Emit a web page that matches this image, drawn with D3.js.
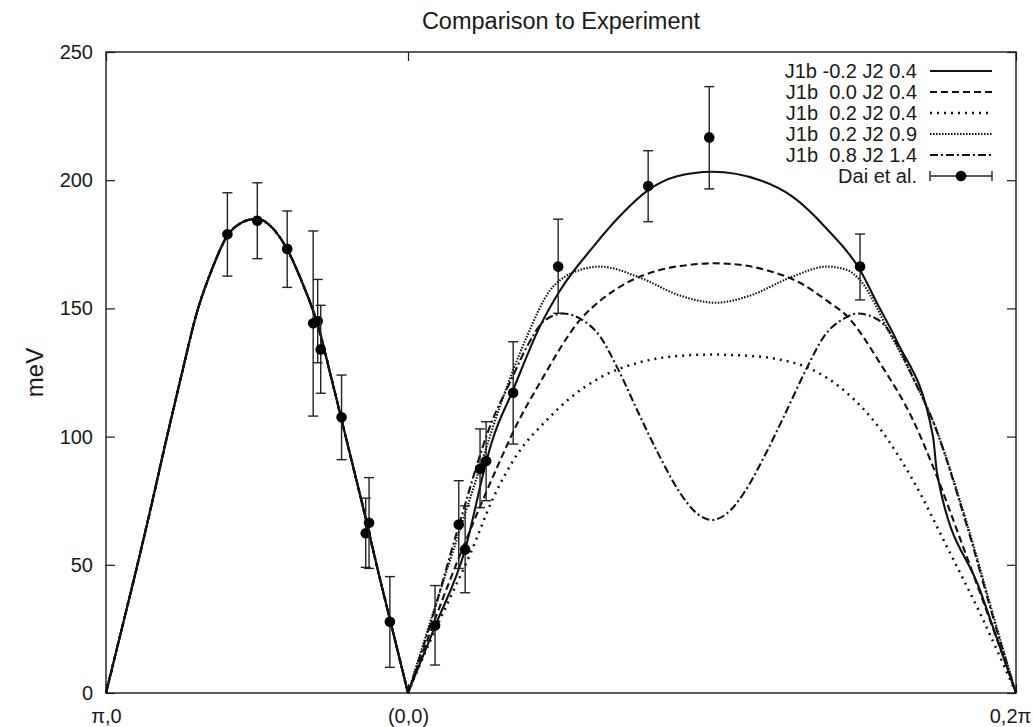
<!DOCTYPE html>
<meta charset="utf-8">
<script src="https://d3js.org/d3.v7.min.js"></script>
<style type="text/css">
body { margin: 0; background: #fff; }
text { font-family: "Liberation Sans", Arial, Helvetica, sans-serif; fill: #1a1a1a; }
.axis path { display: none; }
.axis line { stroke: #1a1a1a; stroke-width: 1.2; }
.axis text { font-size: 20px; }
.curve { fill: none; stroke: #111; stroke-width: 2.1; }
.ebar { stroke: #222; stroke-width: 1.4; }
</style>
<body>
<script>

// x is the path coordinate: 0 = (pi,0), 1 = (0,0), 3 = (0,2pi)
var xTicks = [0, 1, 3];
var xTickLabels = ["π,0", "(0,0)", "0,2π"];
var yTicks = [0, 50, 100, 150, 200, 250];

var seriesNames = ["J1b -0.2 J2 0.4", "J1b  0.0 J2 0.4", "J1b  0.2 J2 0.4", "J1b  0.2 J2 0.9", "J1b  0.8 J2 1.4"];
var seriesDash = [null, "7,4", "2,5", "1.5,1.5", "8,3,2,3"];

// left branch, all five models lie on top of each other
var leftQ = [0, 0.05, 0.1, 0.15, 0.2, 0.25, 0.3, 0.35, 0.4, 0.45, 0.5, 0.55, 0.6, 0.65, 0.7, 0.75, 0.8, 0.85, 0.9, 0.95, 1];
var leftE = [0, 24, 48, 73, 99, 124, 148, 165, 178, 183.5, 185, 181.5, 173, 160, 144, 121, 97, 73, 48, 24, 0];

// right branch, one per model
var q1 = [1, 1.089, 1.188, 1.257, 1.276, 1.345, 1.434, 1.5, 1.609, 1.697, 1.789, 1.885, 2, 2.158, 2.266, 2.378, 2.487, 2.543, 2.609, 2.727, 2.74, 2.882, 3];
var e1 = [0, 26, 56, 90, 98, 118, 143, 157, 174, 186, 196, 201.5, 203.3, 200, 193.5, 181, 165, 152, 137, 100, 86, 40, 0];

var q2 = [1, 1.138, 1.237, 1.293, 1.359, 1.434, 1.566, 1.632, 1.72, 1.829, 1.928, 2.007, 2.092, 2.191, 2.289, 2.378, 2.444, 2.553, 2.661, 2.727, 2.826, 2.938, 3];
var e2 = [0, 44, 72.7, 88, 105, 121, 145.5, 153, 160, 165, 167, 167.6, 167, 164.5, 160, 153, 147, 128.6, 106.5, 88.3, 57, 20.7, 0];

var q3 = [1, 1.072, 1.138, 1.204, 1.28, 1.359, 1.457, 1.533, 1.632, 1.763, 1.895, 2, 2.125, 2.224, 2.313, 2.444, 2.553, 2.661, 2.773, 2.882, 3];
var e3 = [0, 20, 37, 54, 76, 93, 106.5, 115, 123, 129, 131.5, 132, 131.5, 130, 127, 117, 103, 83, 57, 31, 0];

var q4 = [1, 1.082, 1.161, 1.237, 1.303, 1.391, 1.467, 1.5, 1.566, 1.632, 1.763, 1.895, 2.013, 2.125, 2.257, 2.378, 2.444, 2.487, 2.586, 2.661, 2.727, 2.839, 2.938, 3];
var e4 = [0, 31, 60, 88, 112, 139, 157, 161, 165, 166.3, 162, 155, 152.2, 155, 162, 166.3, 165, 161, 140, 123, 106, 66, 25, 0];

var q5 = [1, 1.066, 1.164, 1.273, 1.339, 1.391, 1.447, 1.51, 1.566, 1.632, 1.688, 1.763, 1.829, 1.895, 1.951, 2, 2.049, 2.105, 2.171, 2.237, 2.313, 2.368, 2.434, 2.48, 2.553, 2.609, 2.661, 2.727, 2.839, 2.938, 3];
var e5 = [0, 24, 64, 105, 122, 135, 145, 148, 146, 139, 127, 108, 92, 78, 70, 67.5, 70, 78, 92, 108, 127, 139, 146, 148, 145, 136, 123, 106, 65, 24, 0];

// Dai et al.
var expQ = [0.402, 0.501, 0.6, 0.686, 0.701, 0.711, 0.78, 0.86, 0.871, 0.94, 1.089, 1.167, 1.188, 1.237, 1.257, 1.346, 1.494, 1.79, 1.991, 2.487];
var expE = [178.9, 184.2, 173.2, 144.2, 145.1, 134, 107.5, 62.3, 66.4, 27.8, 26.3, 65.7, 56, 87.4, 90.5, 117.1, 166.3, 197.7, 216.7, 166.3];
var expLo = [162.6, 169.4, 158.2, 108, 128.8, 116.9, 91, 49, 48.6, 10, 10.9, 48.6, 39.1, 72.3, 75, 97.1, 148.1, 183.8, 196.6, 153.3];
var expHi = [195.1, 199, 188, 180.2, 161.3, 151.2, 124, 76, 84, 45.4, 41.9, 82.8, 73, 103, 105.8, 137, 184.8, 211.5, 236.5, 179];

var width = 1033, height = 727;
var x = d3.scaleLinear().domain([0, 1, 3]).range([106, 408, 1016]);
var y = d3.scaleLinear().domain([0, 250]).range([693, 52]);

var svg = d3.select("body").append("svg")
    .attr("width", width)
    .attr("height", height);

function zip(q, e) { return q.map(function(d, i) { return [d, e[i]]; }); }

var rightQ = [q1, q2, q3, q4, q5];
var rightE = [e1, e2, e3, e4, e5];
var series = seriesNames.map(function(name, i) {
    return {name: name, dash: seriesDash[i], left: zip(leftQ, leftE), right: zip(rightQ[i], rightE[i])};
});

var line = d3.line()
    .x(function(d) { return x(d[0]); })
    .y(function(d) { return y(d[1]); })
    .curve(d3.curveMonotoneX);

// axes with inward ticks on all four sides
svg.append("g").attr("class", "axis")
    .attr("transform", "translate(106,0)")
    .call(d3.axisLeft(y).tickValues(yTicks).tickSize(-9).tickPadding(13));
svg.append("g").attr("class", "axis")
    .attr("transform", "translate(1016,0)")
    .call(d3.axisRight(y).tickValues(yTicks).tickSize(-9).tickFormat(""));
svg.append("g").attr("class", "axis")
    .attr("transform", "translate(0,693)")
    .call(d3.axisBottom(x).tickValues(xTicks).tickSize(-9).tickPadding(16)
        .tickFormat(function(d, i) { return xTickLabels[i]; }))
    .selectAll("text").filter(function(d) { return d === 3; }).attr("dx", "-6");
svg.append("g").attr("class", "axis")
    .attr("transform", "translate(0,52)")
    .call(d3.axisTop(x).tickValues(xTicks).tickSize(-9).tickFormat(""));

svg.append("rect")
    .attr("x", x(0)).attr("y", y(250))
    .attr("width", x(3) - x(0)).attr("height", y(0) - y(250))
    .style("fill", "none").style("stroke", "#1a1a1a").style("stroke-width", 1.4);

// model curves, drawn per branch so the cusp at (0,0) stays sharp
series.slice().reverse().forEach(function(s) {
    [s.left, s.right].forEach(function(branch) {
        svg.append("path")
            .attr("class", "curve")
            .attr("d", line(branch))
            .style("stroke-dasharray", s.dash)
            .style("stroke-width", s.dash === "2,5" ? 2.5 : null);
    });
});

// experimental points with error bars
var exp = expQ.map(function(d, i) { return {q: d, e: expE[i], lo: expLo[i], hi: expHi[i]}; });
var pts = svg.selectAll(".pt").data(exp).enter().append("g").attr("class", "pt");
pts.append("line").attr("class", "ebar")
    .attr("x1", function(d) { return x(d.q); }).attr("x2", function(d) { return x(d.q); })
    .attr("y1", function(d) { return y(d.lo); }).attr("y2", function(d) { return y(d.hi); });
pts.append("line").attr("class", "ebar")
    .attr("x1", function(d) { return x(d.q) - 5; }).attr("x2", function(d) { return x(d.q) + 5; })
    .attr("y1", function(d) { return y(d.lo); }).attr("y2", function(d) { return y(d.lo); });
pts.append("line").attr("class", "ebar")
    .attr("x1", function(d) { return x(d.q) - 5; }).attr("x2", function(d) { return x(d.q) + 5; })
    .attr("y1", function(d) { return y(d.hi); }).attr("y2", function(d) { return y(d.hi); });
pts.append("circle")
    .attr("cx", function(d) { return x(d.q); })
    .attr("cy", function(d) { return y(d.e); })
    .attr("r", 5.3)
    .style("fill", "#000");

// legend
var legend = svg.append("g").attr("class", "legend");
series.forEach(function(s, i) {
    var ly = 71 + i * 21;
    legend.append("text").attr("x", 917).attr("y", ly).attr("dy", "0.35em")
        .style("text-anchor", "end").style("font-size", "20px").style("white-space", "pre")
        .text(s.name);
    legend.append("line").attr("class", "curve")
        .attr("x1", 930).attr("x2", 992).attr("y1", ly).attr("y2", ly)
        .style("stroke-dasharray", s.dash)
        .style("stroke-width", s.dash === "2,5" ? 2.5 : null);
});
var ly6 = 71 + 5 * 21;
legend.append("text").attr("x", 917).attr("y", ly6).attr("dy", "0.35em")
    .style("text-anchor", "end").style("font-size", "20px")
    .text("Dai et al.");
legend.append("line").attr("class", "ebar").attr("x1", 930).attr("x2", 992).attr("y1", ly6).attr("y2", ly6);
legend.append("line").attr("class", "ebar").attr("x1", 930).attr("x2", 930).attr("y1", ly6 - 5).attr("y2", ly6 + 5);
legend.append("line").attr("class", "ebar").attr("x1", 992).attr("x2", 992).attr("y1", ly6 - 5).attr("y2", ly6 + 5);
legend.append("circle").attr("cx", 961).attr("cy", ly6).attr("r", 5.3).style("fill", "#000");

// title and y label
svg.append("text")
    .attr("x", (x(0) + x(3)) / 2)
    .attr("y", 29)
    .style("text-anchor", "middle")
    .style("font-size", "23.5px")
    .text("Comparison to Experiment");

svg.append("text")
    .attr("transform", "translate(43," + (y(125)) + ") rotate(-90)")
    .style("text-anchor", "middle")
    .style("font-size", "24px")
    .text("meV");

</script>
</body>
</html>
